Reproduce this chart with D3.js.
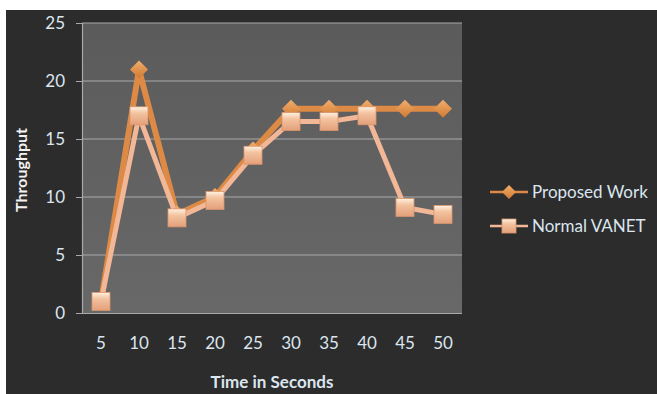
<!DOCTYPE html>
<html>
<head>
<meta charset="utf-8">
<script src="https://cdn.jsdelivr.net/npm/d3@7"></script>
<style>
  html, body { margin: 0; padding: 0; background: #ffffff; }
  svg { display: block; }
</style>
</head>
<body>
<svg id="chart" width="657" height="394"></svg>
<script>
// Throughput over time: proposed scheme vs. normal VANET
const times = ["5", "10", "15", "20", "25", "30", "35", "40", "45", "50"];
const proposedWork = [1, 21, 8.5, 10, 14, 17.6, 17.6, 17.6, 17.6, 17.6];
const normalVanet = [1, 17, 8.2, 9.7, 13.6, 16.5, 16.5, 17, 9.1, 8.5];
const yTicks = [0, 5, 10, 15, 20, 25];
const seriesNames = ["Proposed Work", "Normal VANET"];

const svg = d3.select("#chart");
const font = "Lato, 'Open Sans', sans-serif";
const textColor = "#dbe6ef";

const plot = { left: 82, right: 462, top: 23, bottom: 313 };

const x = d3.scaleBand().domain(times).range([plot.left, plot.right]).padding(0);
const y = d3.scaleLinear().domain([0, 25]).range([plot.bottom, plot.top]);
const cx = d => x(d) + x.bandwidth() / 2;

// gradients
const defs = svg.append("defs");
const pg = defs.append("linearGradient").attr("id", "plotFill").attr("x1", 0).attr("y1", 0).attr("x2", 0).attr("y2", 1);
pg.append("stop").attr("offset", "0%").attr("stop-color", "#5b5b5b");
pg.append("stop").attr("offset", "100%").attr("stop-color", "#686868");

const dg = defs.append("linearGradient").attr("id", "diamondFill").attr("x1", 0).attr("y1", 0).attr("x2", 0).attr("y2", 1);
dg.append("stop").attr("offset", "0%").attr("stop-color", "#f3ad6a");
dg.append("stop").attr("offset", "100%").attr("stop-color", "#cf7a33");

const sg = defs.append("linearGradient").attr("id", "squareFill").attr("x1", 0).attr("y1", 0).attr("x2", 0).attr("y2", 1);
sg.append("stop").attr("offset", "0%").attr("stop-color", "#fff2e2");
sg.append("stop").attr("offset", "35%").attr("stop-color", "#f3c3a0");
sg.append("stop").attr("offset", "100%").attr("stop-color", "#e3a07a");

// dark chart background
svg.append("rect").attr("x", 6).attr("y", 10).attr("width", 651).attr("height", 384).attr("fill", "#2c2c2c");

// plot area
svg.append("rect")
  .attr("x", plot.left).attr("y", plot.top)
  .attr("width", plot.right - plot.left).attr("height", plot.bottom - plot.top)
  .attr("fill", "url(#plotFill)");

// gridlines
svg.append("g").selectAll("line").data(yTicks.filter(t => t > 0)).join("line")
  .attr("x1", plot.left).attr("x2", plot.right)
  .attr("y1", d => y(d)).attr("y2", d => y(d))
  .attr("stroke", "#a9a9a9").attr("stroke-width", 1.2);

// y axis
const yAxis = svg.append("g")
  .attr("transform", `translate(${plot.left},0)`)
  .call(d3.axisLeft(y).tickValues(yTicks).tickSize(6).tickPadding(11));
yAxis.select(".domain").attr("stroke", "#a9a9a9").attr("stroke-width", 1.2);
yAxis.selectAll(".tick line").attr("stroke", "#a9a9a9");
yAxis.selectAll("text").attr("fill", textColor).attr("font-family", font).attr("font-size", 17);

// x axis
const xAxis = svg.append("g")
  .attr("transform", `translate(0,${plot.bottom})`)
  .call(d3.axisBottom(x).tickSize(0).tickPadding(24));
xAxis.select(".domain").attr("stroke", "#a9a9a9").attr("stroke-width", 1.2)
  .attr("d", `M${plot.left - 6},0.5H${plot.right}`);
xAxis.selectAll("text").attr("fill", textColor).attr("font-family", font).attr("font-size", 17);

// axis titles
svg.append("text")
  .attr("transform", `translate(27,170) rotate(-90)`)
  .attr("text-anchor", "middle")
  .attr("font-family", font).attr("font-weight", "bold").attr("font-size", 16)
  .attr("fill", "#f2f2f2")
  .text("Throughput");
svg.append("text")
  .attr("x", 272).attr("y", 388)
  .attr("text-anchor", "middle")
  .attr("font-family", font).attr("font-weight", "bold").attr("font-size", 17)
  .attr("fill", textColor)
  .text("Time in Seconds");

// series
const line = d3.line().x((d, i) => cx(times[i])).y(d => y(d));

svg.append("path").datum(proposedWork)
  .attr("d", line).attr("fill", "none")
  .attr("stroke", "#dc8a45").attr("stroke-width", 6).attr("stroke-linejoin", "round");
svg.append("path").datum(normalVanet)
  .attr("d", line).attr("fill", "none")
  .attr("stroke", "#f2b796").attr("stroke-width", 5).attr("stroke-linejoin", "round");

const diamond = s => `M0,${-s}L${s},0L0,${s}L${-s},0Z`;

svg.append("g").selectAll("path").data(proposedWork).join("path")
  .attr("transform", (d, i) => `translate(${cx(times[i])},${y(d)})`)
  .attr("d", diamond(9))
  .attr("fill", "url(#diamondFill)");

svg.append("g").selectAll("rect").data(normalVanet).join("rect")
  .attr("x", (d, i) => cx(times[i]) - 9)
  .attr("y", d => y(d) - 9)
  .attr("width", 18).attr("height", 18)
  .attr("fill", "url(#squareFill)")
  .attr("stroke", "#d9956d").attr("stroke-width", 0.8);

// legend
const legend = svg.append("g");
const legendY = [192, 226];
legend.append("line").attr("x1", 490).attr("x2", 528).attr("y1", legendY[0]).attr("y2", legendY[0])
  .attr("stroke", "#dc8a45").attr("stroke-width", 2.5);
legend.append("path").attr("transform", `translate(509,${legendY[0]})`).attr("d", diamond(7))
  .attr("fill", "url(#diamondFill)");
legend.append("line").attr("x1", 490).attr("x2", 528).attr("y1", legendY[1]).attr("y2", legendY[1])
  .attr("stroke", "#f2b796").attr("stroke-width", 2.5);
legend.append("rect").attr("x", 502).attr("y", legendY[1] - 7).attr("width", 14).attr("height", 14)
  .attr("fill", "url(#squareFill)").attr("stroke", "#d9956d").attr("stroke-width", 0.8);
legend.selectAll("text.lbl").data(seriesNames).join("text")
  .attr("class", "lbl")
  .attr("x", 532).attr("y", (d, i) => legendY[i] + 6)
  .attr("font-family", font).attr("font-size", 17)
  .attr("fill", textColor)
  .text(d => d);
</script>
</body>
</html>
